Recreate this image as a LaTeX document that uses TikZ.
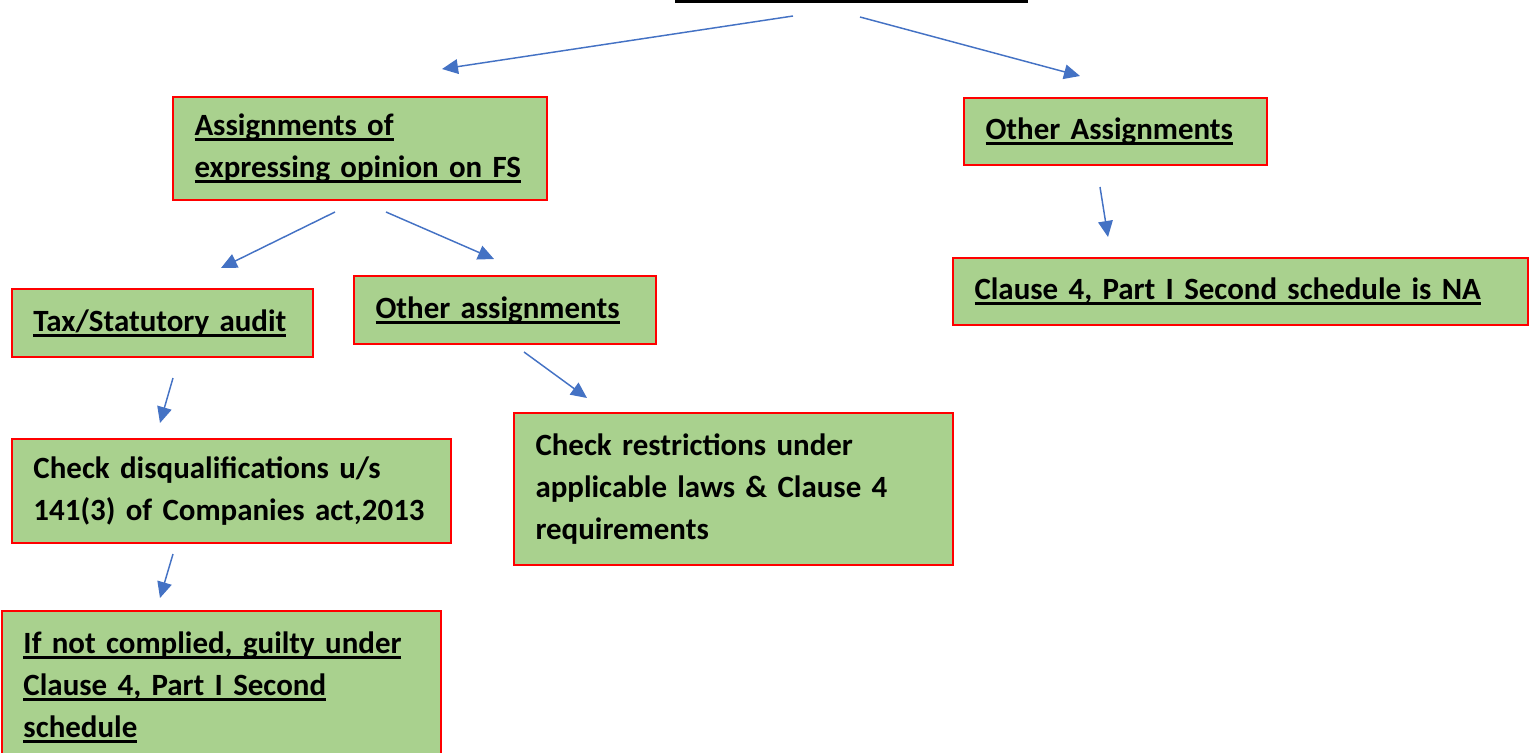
\documentclass[tikz,border=0pt]{standalone}
\usepackage{fontspec}
\setmainfont{Carlito}
\usetikzlibrary{arrows.meta}
\definecolor{boxfill}{HTML}{A9D18E}
\definecolor{boxline}{HTML}{FF0000}
\definecolor{arrowblue}{HTML}{4472C4}
% underlined line of text with a heavy rule
\newcommand\ulline[1]{\leavevmode\setbox0\hbox{#1}\rlap{\rule[-4pt]{\wd0}{1.9pt}}\box0}
\begin{document}
\begin{tikzpicture}[x=0.75pt,y=-0.75pt,
  box/.style={draw=boxline, line width=1.5pt, fill=boxfill,
    inner xsep=16.125pt, inner ysep=0pt, align=left, anchor=center,
    font=\bfseries\fontsize{23.2}{31.5}\selectfont},
  link/.style={draw=arrowblue, line width=1.1pt,
    -{Triangle[length=12pt,width=11pt]}}]
\useasboundingbox (0,0) rectangle (1532,753);

% heading rule at the top edge
\fill (675,0) rectangle (1028,2.5);

% boxes
\node[box, text width=248.25pt, minimum height=77.25pt] (fs) at (360,148.5)
  {\ulline{Assignments of}\\ \ulline{expressing opinion on FS}};
\node[box, text width=195pt, minimum height=50.25pt] (other) at (1115.5,131.5)
  {\ulline{Other Assignments}};
\node[box, text width=399pt, minimum height=50.25pt] (na) at (1240.5,291.5)
  {\ulline{Clause 4, Part I Second schedule is NA}};
\node[box, text width=193.5pt, minimum height=51pt] (tax) at (162.5,323)
  {\ulline{Tax/Statutory audit}};
\node[box, text width=194.25pt, minimum height=51pt] (oth) at (505,310)
  {\ulline{Other assignments}};
\node[box, text width=297pt, minimum height=78pt] (disq) at (231.5,491)
  {Check disqualifications u/s\\ 141(3) of Companies act,2013};
\node[box, text width=297pt, minimum height=114pt] (restr) at (733.5,489)
  {Check restrictions under\\ applicable laws \& Clause 4\\ requirements};
\node[box, text width=297pt, minimum height=114pt] (guilty) at (221.5,687)
  {\ulline{If not complied, guilty under}\\ \ulline{Clause 4, Part I Second}\\ \ulline{schedule}};

% connector ends
\coordinate (t1s) at (793,16);   \coordinate (t1e) at (442,69);
\coordinate (t2s) at (860,17);   \coordinate (t2e) at (1080,76);
\coordinate (a1s) at (335,212);  \coordinate (a1e) at (221,268);
\coordinate (a2s) at (386,212);  \coordinate (a2e) at (494,259);
\coordinate (b1s) at (173,378);  \coordinate (b1e) at (160,423);
\coordinate (b2s) at (524,352);  \coordinate (b2e) at (587,398);
\coordinate (c1s) at (173,554);  \coordinate (c1e) at (160,598);
\coordinate (d1s) at (1100,187); \coordinate (d1e) at (1108,237);

\draw[link] (t1s) -- (t1e);
\draw[link] (t2s) -- (t2e);
\draw[link] (a1s) -- (a1e);
\draw[link] (a2s) -- (a2e);
\draw[link] (b1s) -- (b1e);
\draw[link] (b2s) -- (b2e);
\draw[link] (c1s) -- (c1e);
\draw[link] (d1s) -- (d1e);
\end{tikzpicture}
\end{document}
